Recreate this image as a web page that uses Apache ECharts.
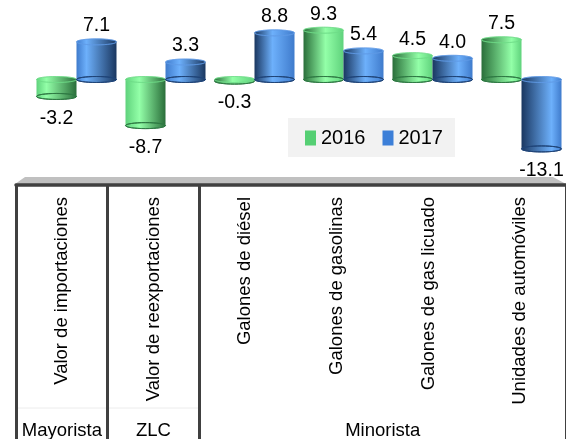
<!DOCTYPE html>
<html>
<head>
<meta charset="utf-8">
<script src="https://cdn.jsdelivr.net/npm/echarts@6/dist/echarts.min.js"></script>
<style>html,body{margin:0;padding:0;background:#fff}#c{width:566px;height:439px}</style>
</head>
<body>
<div id="c"></div>
<script>
var categories = ['Valor de importaciones','Valor de reexportaciones','Galones de diésel','Galones de gasolinas','Galones de gas licuado','Unidades de automóviles'];
var series2016 = [-3.2, -8.7, -0.3, 9.3, 4.5, 7.5];
var series2017 = [7.1, 3.3, 8.8, 5.4, 4.0, -13.1];
var groups = ['Mayorista','ZLC','Minorista'];
var groupStart = [0, 1, 2];
var groupEnd = [0, 1, 5];

var FONT = 'Liberation Sans, Arial, sans-serif';
var BAR_W = 40;
var PAL = {
  g: {dark: '#2a6e3a', mid: '#5fd27c', light: '#93ffa8', rim: '#2f7a44', edge: '#6fdc88'},
  b: {dark: '#1a3760', mid: '#3f7bcc', light: '#6db0fb', rim: '#1f4478', edge: '#5f9ae6'}
};

function grad(i, dark, mid, light) {
  var h = 0.25 + 0.1 * i;
  return new echarts.graphic.LinearGradient(0, 0, 1, 0, [
    {offset: 0, color: i < 2 ? mid : dark},
    {offset: h, color: light},
    {offset: 1, color: i < 2 ? dark : mid}
  ]);
}
function mkData(vals, p) {
  return vals.map(function (v, i) {
    return {
      value: v,
      itemStyle: {color: grad(i, p.dark, p.mid, p.light)},
      label: {position: v < 0 ? 'bottom' : 'top', distance: v < 0 ? 12 : 6}
    };
  });
}
function capSeries(name, vals, p, offset) {
  return {
    name: name, type: 'custom', xAxisIndex: 0, yAxisIndex: 0, silent: true,
    data: vals.map(function (v, i) { return [i, v]; }),
    renderItem: function (params, api) {
      var i = api.value(0), v = api.value(1);
      var top = api.coord([i, Math.max(v, 0)]);
      var bot = api.coord([i, Math.min(v, 0)]);
      var cx = top[0] + offset;
      var rx = BAR_W / 2, ry = 3;
      return {
        type: 'group',
        children: [
          {type: 'ellipse', shape: {cx: cx, cy: bot[1], rx: rx, ry: ry},
           style: {fill: grad(i, p.dark, p.mid, p.light), stroke: p.rim, lineWidth: 1}},
          {type: 'ellipse', shape: {cx: cx, cy: top[1], rx: rx, ry: ry},
           style: {fill: grad(i, p.dark, p.mid, p.light), stroke: p.edge, lineWidth: 0.6}}
        ]
      };
    }
  };
}

var chart = echarts.init(document.getElementById('c'), null, {renderer: 'canvas'});
var labelStyle = {show: true, fontSize: 19.5, color: '#000', fontFamily: FONT,
                  formatter: function (p) { return p.value.toFixed(1); }};

chart.setOption({
  animation: false,
  textStyle: {fontFamily: FONT},
  grid: [
    {left: 32, right: 0, top: 0, height: 159},
    {left: 16, right: -14, top: 0, height: 185}
  ],
  xAxis: [
    {type: 'category', gridIndex: 0, data: categories, show: false},
    {type: 'category', gridIndex: 1, data: categories,
     axisLine: {show: true, lineStyle: {color: '#404040', width: 3.5}},
     axisTick: {show: true, length: 254, interval: function (idx) { return idx <= 2; },
                lineStyle: {color: '#404040', width: 3}},
     axisLabel: {rotate: 90, margin: 12, fontSize: 18.5, color: '#000', fontFamily: FONT, interval: 0}
    }
  ],
  yAxis: [
    {type: 'value', gridIndex: 0, min: -15, max: 15, show: false},
    {type: 'value', gridIndex: 1, min: 0, max: 1, show: false}
  ],
  legend: {
    left: 288, top: 118, padding: [10, 12, 9, 17], backgroundColor: '#f2f2f2',
    itemWidth: 11, itemHeight: 15, itemGap: 17,
    textStyle: {fontSize: 20, color: '#000', fontFamily: FONT},
    data: [
      {name: '2016', icon: 'rect', itemStyle: {color: '#55cf73'}},
      {name: '2017', icon: 'rect', itemStyle: {color: '#3c7fd8'}}
    ]
  },
  series: [
    {name: '2016', type: 'bar', xAxisIndex: 0, yAxisIndex: 0, barWidth: BAR_W, barGap: '0%',
     itemStyle: {color: '#55cf73'}, label: labelStyle, z: 2,
     data: mkData(series2016, PAL.g)},
    {name: '2017', type: 'bar', xAxisIndex: 0, yAxisIndex: 0, barWidth: BAR_W,
     itemStyle: {color: '#3c7fd8'}, label: labelStyle, z: 2,
     data: mkData(series2017, PAL.b)},
    Object.assign(capSeries('2016', series2016, PAL.g, -BAR_W / 2), {z: 3}),
    Object.assign(capSeries('2017', series2017, PAL.b, BAR_W / 2), {z: 4})
  ]
});

var gfx = [];
gfx.push({type: 'polygon', shape: {points: [[25, 177], [553, 177], [566, 184], [15, 184]]},
          style: {fill: '#c0c0c0'}, z: -1});
var xStart = chart.convertToPixel({xAxisIndex: 1}, categories[0]);
var bandW = chart.convertToPixel({xAxisIndex: 1}, categories[1]) - xStart;
gfx.push({type: 'line', shape: {x1: xStart - bandW / 2, y1: 408, x2: xStart + bandW * 1.5, y2: 408},
          style: {stroke: '#ececec', lineWidth: 1}, z: -1});
for (var g = 0; g < groups.length; g++) {
  var a = chart.convertToPixel({xAxisIndex: 1}, categories[groupStart[g]]);
  var b = chart.convertToPixel({xAxisIndex: 1}, categories[groupEnd[g]]);
  gfx.push({type: 'text', x: (a + b) / 2, y: 431,
            style: {text: groups[g], fontSize: 18.5, fontFamily: FONT, fill: '#000',
                    textAlign: 'center', textVerticalAlign: 'middle'}});
}
chart.setOption({graphic: gfx});
</script>
</body>
</html>
